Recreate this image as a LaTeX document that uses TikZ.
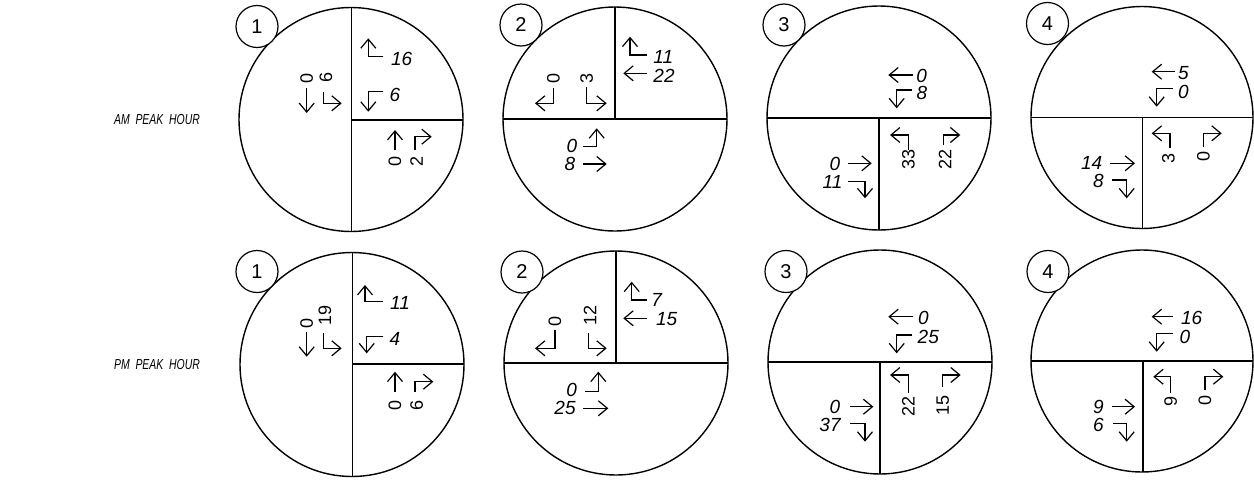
\documentclass[tikz,border=0pt]{standalone}
\usepackage{fontspec}
\setmainfont{Liberation Sans}
\newfontfamily\labfont[FakeStretch=0.72]{Liberation Sans}
\usetikzlibrary{arrows.meta}
\begin{document}
\begin{tikzpicture}[x=1pt,y=-1pt,
  ring/.style={line width=1.4pt},
  divider/.style={line width=1.5pt},
  tagring/.style={line width=1.2pt, fill=white},
  mv/.style={line width=1.2pt, -{Straight Barb[length=9pt,width=15pt]}},
  num/.style={font=\fontsize{19}{19}\selectfont\itshape, inner sep=0pt},
  rnum/.style={font=\fontsize{18}{18}\selectfont, inner sep=0pt, rotate=90},
  tagnum/.style={font=\fontsize{20}{20}\selectfont, inner sep=0pt},
  rowlabel/.style={font=\fontsize{14.5}{14.5}\labfont\itshape, inner sep=0pt}]
\useasboundingbox (0,0) rectangle (1254,480);

\node[rowlabel] (amlab) at (157,120) {AM\ \ PEAK\ \ HOUR};
\node[rowlabel] (pmlab) at (157,365) {PM\ \ PEAK\ \ HOUR};

% ================= AM 1
\draw[ring] (351,119.5) circle (112);
\draw[divider] (351.5,7.5) -- (351.5,231.5);
\draw[divider] (351.5,120) -- (463,120);
\draw[tagring] (257,26.5) circle (21);
\node[tagnum] (a1t) at (257,26.5) {1};
\draw[mv] (306.7,88) -- (306.7,113);
\node[rnum] (a1a) at (306.7,78) {0};
\draw[mv] (323.3,91.7) -- (323.3,103.3) -- (341.7,103.3);
\node[rnum] (a1b) at (326,77) {6};
\draw[mv] (383.3,56.7) -- (368.3,56.7) -- (368.3,38.3);
\node[num] (a1c) at (401.7,59) {16};
\draw[mv] (383.3,91.7) -- (368.3,91.7) -- (368.3,111.7);
\node[num] (a1d) at (395,95) {6};
\draw[mv] (395,150) -- (395,130);
\node[rnum] (a1e) at (395,161.7) {0};
\draw[mv] (415,150) -- (415,136.7) -- (431.7,136.7);
\node[rnum] (a1f) at (416.7,161.7) {2};

% ================= AM 2
\draw[ring] (615,119) circle (112);
\draw[divider] (615,7) -- (615,119);
\draw[divider] (503,119) -- (727,119);
\draw[tagring] (521,25) circle (21);
\node[tagnum] (a2t) at (521,25) {2};
\draw[mv] (553.3,88.3) -- (553.3,103.3) -- (535,103.3);
\node[rnum] (a2a) at (553.3,78.3) {0};
\draw[mv] (586.7,86.7) -- (586.7,103.3) -- (606.7,103.3);
\node[rnum] (a2b) at (586.7,78.3) {3};
\draw[mv] (646.7,55) -- (630,55) -- (630,36.7);
\node[num] (a2c) at (663.3,57.3) {11};
\draw[mv] (646.7,73.3) -- (623.3,73.3);
\node[num] (a2d) at (664,76) {22};
\draw[mv] (583.3,146.7) -- (596.7,146.7) -- (596.7,128.3);
\node[num] (a2e) at (572,146) {0};
\draw[mv] (583.3,164) -- (606.7,164);
\node[num] (a2f) at (570,164) {8};

% ================= AM 3
\draw[ring] (879,118) circle (112);
\draw[divider] (767,118) -- (991,118);
\draw[divider] (879,118) -- (879,230);
\draw[tagring] (784,25) circle (21);
\node[tagnum] (a3t) at (784,25) {3};
\draw[mv] (913.3,75) -- (888.3,75);
\node[num] (a3a) at (921.7,75.5) {0};
\draw[mv] (911.7,90) -- (896.7,90) -- (896.7,108.3);
\node[num] (a3b) at (922,93) {8};
\draw[mv] (848.3,163.3) -- (871.7,163.3);
\node[num] (a3c) at (835,164) {0};
\draw[mv] (848.3,181.7) -- (865,181.7) -- (865,198.3);
\node[num] (a3d) at (832.5,181.7) {11};
\draw[mv] (908.3,150) -- (908.3,135) -- (890,135);
\node[rnum] (a3e) at (908.3,159.5) {33};
\draw[mv] (943.3,145) -- (943.3,135) -- (960.3,135);
\node[rnum] (a3f) at (945,159.5) {22};

% ================= AM 4
\draw[ring] (1142,117.5) circle (111);
\draw[divider] (1031,117.5) -- (1253,117.5);
\draw[divider] (1142.5,117.5) -- (1142.5,228.5);
\draw[tagring] (1047.5,23.5) circle (21);
\node[tagnum] (a4t) at (1047.5,23.5) {4};
\draw[mv] (1175,71.7) -- (1151.7,71.7);
\node[num] (a4a) at (1183.3,73) {5};
\draw[mv] (1173.3,88.3) -- (1156.7,88.3) -- (1156.7,106.7);
\node[num] (a4b) at (1183.3,91.7) {0};
\draw[mv] (1110,163.3) -- (1135,163.3);
\node[num] (a4c) at (1091.7,163.3) {14};
\draw[mv] (1111.7,180) -- (1126.7,180) -- (1126.7,198.3);
\node[num] (a4d) at (1098.3,181) {8};
\draw[mv] (1170,148.3) -- (1170,133.3) -- (1151.7,133.3);
\node[rnum] (a4e) at (1168.3,158.3) {3};
\draw[mv] (1203.3,146.7) -- (1203.3,133.3) -- (1221.7,133.3);
\node[rnum] (a4f) at (1203.3,156.7) {0};

% ================= PM 1
\draw[ring] (352,364.5) circle (112);
\draw[divider] (352.5,252.5) -- (352.5,476.5);
\draw[divider] (352.5,364) -- (464,364);
\draw[tagring] (257,271.5) circle (21);
\node[tagnum] (p1t) at (257,271.5) {1};
\draw[mv] (306.7,331.7) -- (306.7,356.7);
\node[rnum] (p1a) at (306.7,323.3) {0};
\draw[mv] (323.3,333.3) -- (323.3,348.3) -- (341.7,348.3);
\node[rnum] (p1b) at (325,315.5) {19};
\draw[mv] (383.3,301.7) -- (365,301.7) -- (365,285);
\node[num] (p1c) at (400,303.3) {11};
\draw[mv] (383.3,336.7) -- (366.7,336.7) -- (366.7,353.3);
\node[num] (p1d) at (395,339.3) {4};
\draw[mv] (395,391.7) -- (395,371.7);
\node[rnum] (p1e) at (395,405) {0};
\draw[mv] (415,391.7) -- (415,381.7) -- (433.3,381.7);
\node[rnum] (p1f) at (416.7,405) {6};

% ================= PM 2
\draw[ring] (616,363) circle (112);
\draw[divider] (616,251) -- (616,363);
\draw[divider] (504,363) -- (728,363);
\draw[tagring] (522,272) circle (21);
\node[tagnum] (p2t) at (522,272) {2};
\draw[mv] (555,330) -- (555,348.3) -- (535,348.3);
\node[rnum] (p2a) at (555,321.7) {0};
\draw[mv] (588.3,333.3) -- (588.3,348.3) -- (606.7,348.3);
\node[rnum] (p2b) at (590,315) {12};
\draw[mv] (646.7,300) -- (631.7,300) -- (631.7,281.7);
\node[num] (p2c) at (656.7,300) {7};
\draw[mv] (646.7,318.3) -- (623.3,318.3);
\node[num] (p2d) at (666.7,319.3) {15};
\draw[mv] (585,391.7) -- (598.3,391.7) -- (598.3,371.7);
\node[num] (p2e) at (571.7,390) {0};
\draw[mv] (583.3,408.3) -- (608.3,408.3);
\node[num] (p2f) at (565,408.3) {25};

% ================= PM 3
\draw[ring] (880,362) circle (112);
\draw[divider] (768,362) -- (992,362);
\draw[divider] (880,362) -- (880,474);
\draw[tagring] (786,271.5) circle (21);
\node[tagnum] (p3t) at (786,271.5) {3};
\draw[mv] (913.3,316.7) -- (888.3,316.7);
\node[num] (p3a) at (923.3,318) {0};
\draw[mv] (911.7,335) -- (896.7,335) -- (896.7,353.3);
\node[num] (p3b) at (928.3,336.7) {25};
\draw[mv] (850,406.7) -- (873.3,406.7);
\node[num] (p3c) at (835,406.7) {0};
\draw[mv] (850,423.3) -- (865,423.3) -- (865,441.7);
\node[num] (p3d) at (830,425) {37};
\draw[mv] (908.3,393.3) -- (908.3,375) -- (890,375);
\node[rnum] (p3e) at (908.3,406.7) {22};
\draw[mv] (942.7,386.7) -- (942.7,375) -- (960.7,375);
\node[rnum] (p3f) at (942.7,405) {15};

% ================= PM 4
\draw[ring] (1142,361) circle (111);
\draw[divider] (1031,361) -- (1253,361);
\draw[divider] (1143,361) -- (1143,472);
\draw[tagring] (1048,271.5) circle (21);
\node[tagnum] (p4t) at (1048,271.5) {4};
\draw[mv] (1173.3,316.7) -- (1151.7,316.7);
\node[num] (p4a) at (1191.7,318.3) {16};
\draw[mv] (1173.3,333.3) -- (1156.7,333.3) -- (1156.7,351.7);
\node[num] (p4b) at (1185,336.7) {0};
\draw[mv] (1111.7,406.7) -- (1135,406.7);
\node[num] (p4c) at (1098.3,406.7) {9};
\draw[mv] (1113.3,423.3) -- (1126.7,423.3) -- (1126.7,441.7);
\node[num] (p4d) at (1098.3,425) {6};
\draw[mv] (1170.7,393.3) -- (1170.7,376.7) -- (1153.3,376.7);
\node[rnum] (p4e) at (1170.7,401.7) {9};
\draw[mv] (1205,390) -- (1205,376.7) -- (1223.3,376.7);
\node[rnum] (p4f) at (1205,400) {0};
\end{tikzpicture}
\end{document}
